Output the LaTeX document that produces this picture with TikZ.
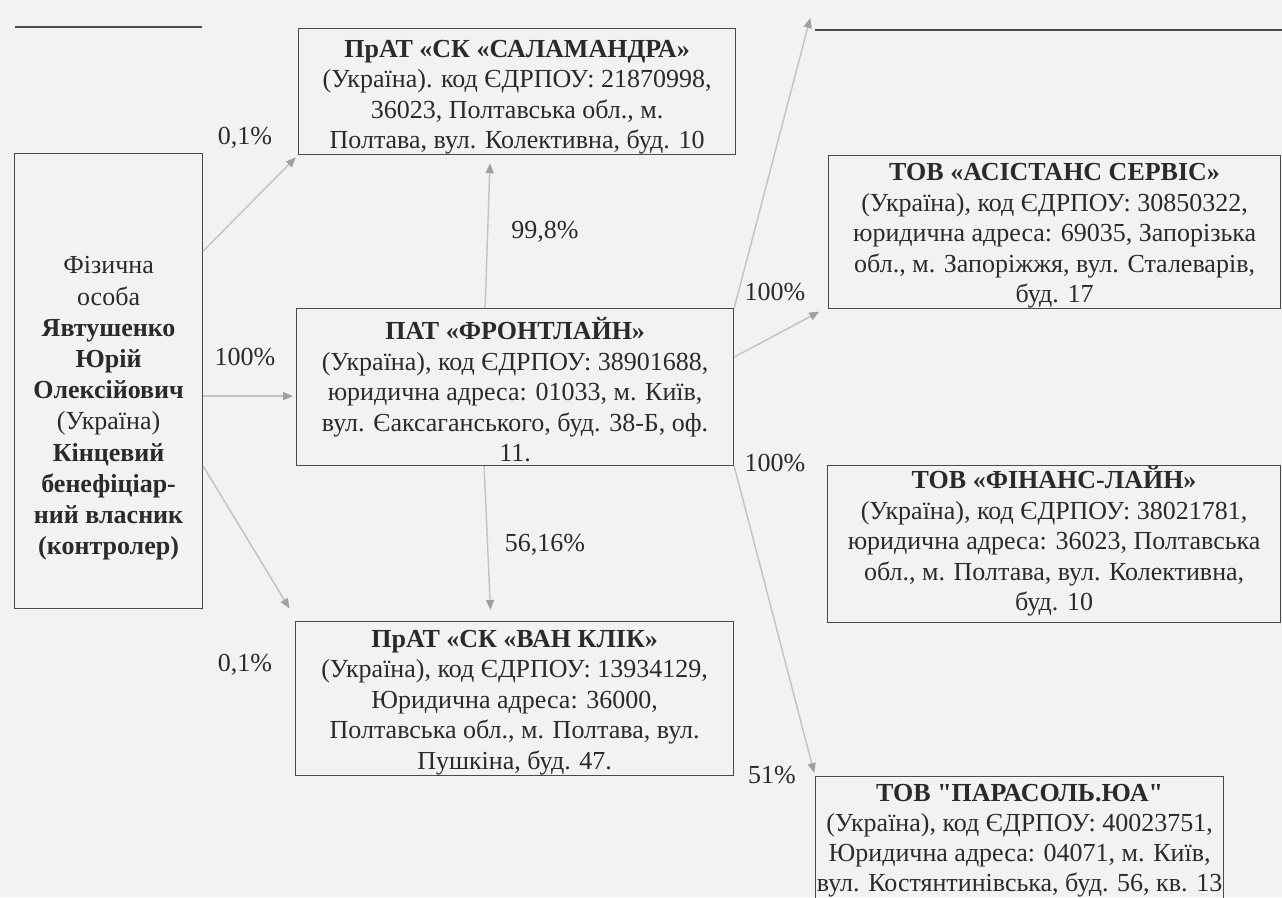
\documentclass[tikz,border=0pt]{standalone}
\usepackage{fontspec}
\setmainfont{Liberation Serif}[Ligatures=TeXOff]
\usetikzlibrary{arrows.meta}
\definecolor{pagebg}{HTML}{F2F2F2}
\definecolor{boxline}{HTML}{4A4A4A}
\definecolor{inktext}{HTML}{2A2A2A}
\definecolor{linkline}{HTML}{C2C2C2}
\definecolor{linktip}{HTML}{A0A0A0}

\begin{document}
\begin{tikzpicture}[x=1pt, y=-1pt,
    font=\fontsize{26}{30.5}\selectfont, text=inktext,
    box/.style={draw=boxline, line width=1.2pt, align=center, inner sep=0pt, anchor=north west},
    edgeline/.style={draw=boxline, line width=1.2pt},
    link/.style={draw=linkline, line width=1.4pt, -{Triangle[length=10pt,width=8pt,color=linktip]}, shorten >=3pt},
    pct/.style={inner sep=0pt}]
  \useasboundingbox (0,0) rectangle (1282,897);
  \fill[pagebg] (0,0) rectangle (1282,897);
  \clip (0,0) rectangle (1282,897);

  % remains of the boxes above the cut
  \coordinate (upleft) at (15,27);
  \coordinate (upright) at (815,30);
  \draw[edgeline] (upleft) -- +(187,0);
  \draw[edgeline] (upright) -- +(467,0);

  % owner
  \node[box, minimum width=188pt, minimum height=455pt, font=\fontsize{26}{31.2}\selectfont] (person) at (14,153)
    {\rule{0pt}{72pt}Фізична\\ особа\\ \textbf{Явтушенко}\\ \textbf{Юрій}\\ \textbf{Олексійович}\\
     (Україна)\\ \textbf{Кінцевий}\\ \textbf{бенефіціар-}\\ \textbf{ний власник}\\ \textbf{(контролер)}};

  % middle column
  \node[box, minimum width=437pt, minimum height=126pt] (salam) at (298,28)
    {\rule{0pt}{28pt}\textbf{ПрАТ «СК «САЛАМАНДРА»}\\ (Україна). код ЄДРПОУ: 21870998,\\
     36023, Полтавська обл., м.\\ Полтава, вул. Колективна, буд. 10};
  \node[box, minimum width=437pt, minimum height=157pt] (front) at (296,308)
    {\rule{0pt}{28pt}\textbf{ПАТ «ФРОНТЛАЙН»}\\ (Україна), код ЄДРПОУ: 38901688,\\ юридична адреса: 01033, м. Київ,\\
     вул. Єаксаганського, буд. 38-Б, оф.\\ 11.};
  \node[box, minimum width=438pt, minimum height=154pt] (vanklik) at (295,621)
    {\rule{0pt}{25pt}\textbf{ПрАТ «СК «ВАН КЛІК»}\\ (Україна), код ЄДРПОУ: 13934129,\\ Юридична адреса: 36000,\\
     Полтавська обл., м. Полтава, вул.\\ Пушкіна, буд. 47.};

  % right column
  \node[box, minimum width=452pt, minimum height=153pt] (asist) at (828,155)
    {\rule{0pt}{25pt}\textbf{ТОВ «АСІСТАНС СЕРВІС»}\\ (Україна), код ЄДРПОУ: 30850322,\\ юридична адреса: 69035, Запорізька\\
     обл., м. Запоріжжя, вул. Сталеварів,\\ буд. 17};
  \node[box, minimum width=453pt, minimum height=157pt] (finance) at (827,465)
    {\rule{0pt}{22pt}\textbf{ТОВ «ФІНАНС-ЛАЙН»}\\ (Україна), код ЄДРПОУ: 38021781,\\ юридична адреса: 36023, Полтавська\\
     обл., м. Полтава, вул. Колективна,\\ буд. 10\rule[-11pt]{0pt}{0pt}};
  \node[box, minimum width=408pt, font=\fontsize{26}{30}\selectfont] (parasol) at (815,776)
    {\rule{0pt}{25pt}\textbf{ТОВ "ПАРАСОЛЬ.ЮА"}\\ (Україна), код ЄДРПОУ: 40023751,\\ Юридична адреса: 04071, м. Київ,\\
     вул. Костянтинівська, буд. 56, кв. 13\rule[-8pt]{0pt}{0pt}};

  % shares
  \node[pct] (s1) at (245,138) {0,1\%};
  \node[pct] (s2) at (545,232) {99,8\%};
  \node[pct] (s3) at (245,357) {100\%};
  \node[pct] (s4) at (545,545) {56,16\%};
  \node[pct] (s5) at (245,665) {0,1\%};
  \node[pct] (s6) at (775,292) {100\%};
  \node[pct] (s7) at (775,463) {100\%};
  \node[pct] (s8) at (772,775) {51\%};

  \draw[link] ([yshift=130pt]person.east) -- (salam.south west);
  \draw[link] ([yshift=-15pt]person.east) -- ([yshift=-9pt]front.west);
  \draw[link] ([yshift=-85pt]person.east) -- ([xshift=-4pt,yshift=10pt]vanklik.north west);
  \draw[link] ([xshift=-30pt]front.north) -- ([xshift=-27pt,yshift=-5pt]salam.south);
  \draw[link] ([xshift=-31pt]front.south) -- ([xshift=-24pt,yshift=8pt]vanklik.north);
  \draw[link] ([yshift=30pt]front.east) -- ([xshift=-6pt,yshift=-1pt]asist.south west);
  \draw[link] (front.south east) -- (parasol.north west);
  \draw[link] (front.north east) -- ([xshift=-4pt,yshift=15pt]upright);
\end{tikzpicture}
\end{document}
